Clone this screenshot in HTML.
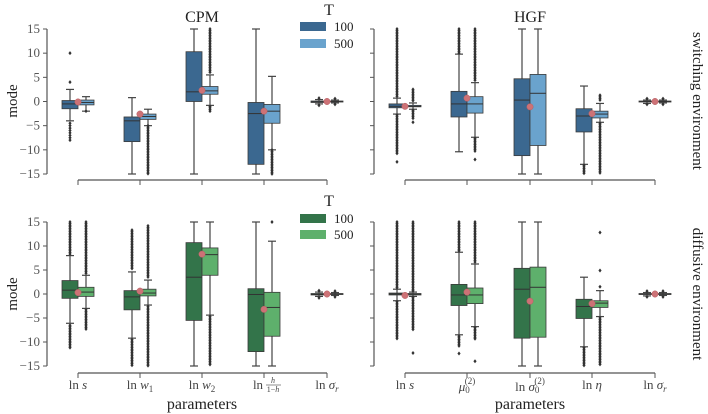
<!DOCTYPE html>
<html><head><meta charset="utf-8"><style>
html,body{margin:0;padding:0;background:#fff;}
svg{display:block;font-family:"Liberation Serif",serif;}
</style></head><body>
<svg id="c" width="708" height="414" viewBox="0 0 708 414" font-family="Liberation Serif, serif"></svg>
<script>
// ---- data ----
const cpmLabels=["ln s","ln w1","ln w2","ln h/(1-h)","ln σr"];
const hgfLabels=["ln s","μ0(2)","ln σ0(2)","ln η","ln σr"];
const yTicks=[15,10,5,0,-5,-10,-15];
// stats: [whiskerLow,q1,median,q3,whiskerHigh]
const cpmSw100=[[-4,-1.5,-0.5,0.2,2.5],[-15,-8.3,-4,-3.2,0.8],[-15,0,2,10.3,15],[-15,-13,-2.5,-0.2,15],[-0.5,-0.2,-0.1,0.1,0.4]];
const cpmSw500=[[-2,-0.7,-0.2,0.3,1],[-5,-3.7,-3.1,-2.6,-1.6],[-0.8,1.5,2.2,3.1,5.5],[-10,-4.5,-2,-0.6,5.2],[-0.3,-0.1,0,0.1,0.3]];
const cpmSwMean=[-0.1,-2.6,2.3,-2,0];
const cpmSwOut100=[[10,4,-4.5,-5,-5.5,-6,-6.5,-7,-7.5,-8],[],[],[],[0.7,-0.8]];
const cpmSwOut500=[[-2],[],[],[],[0.6,-0.6]];
const cpmSwRuns100=[[],[],[],[],[]];
const cpmSwRuns500=[[],[[-15,-5]],[[6,15],[-2.3,-1]],[[-15,-10]],[]];

const hgfSw100=[[-2.6,-1.3,-1,-0.5,0.7],[-10.4,-3.2,-0.5,2.1,9.8],[-15,-11.2,0.3,4.7,15],[-13,-6.3,-3,-1.5,3.2],[-0.4,-0.1,0,0.1,0.3]];
const hgfSw500=[[-1.6,-1.1,-1,-0.8,-0.3],[-7.4,-2.4,-0.5,1,3.9],[-15,-9.1,1.7,5.6,15],[-4.3,-3.4,-2.6,-2,-0.4],[-0.3,-0.1,0,0.1,0.3]];
const hgfSwMean=[-1,0.7,-1.1,-2.5,0];
const hgfSwOut100=[[-12.5],[],[],[],[0.6,-0.6]];
const hgfSwOut500=[[-4.3],[-12],[],[],[0.6,-0.6]];
const hgfSwRuns100=[[[0.9,15],[-11,-2.8]],[[10,15]],[],[[-15,-13.2]],[]];
const hgfSwRuns500=[[[0,2.5],[-3.5,-1.8]],[[4.2,15],[-10.5,-7.6]],[],[[0,1.3],[-15,-4.5]],[]];

const cpmDf100=[[-6.1,-0.9,0.8,2.8,8],[-9.2,-3.3,-0.6,0.7,4.6],[-15,-5.5,3.5,10.7,15],[-15,-12,-0.1,1.1,15],[-0.5,-0.2,-0.1,0.1,0.4]];
const cpmDf500=[[-3,-0.5,0.4,1.4,3.9],[-2.3,-0.4,0.2,1,2.9],[-4.4,3.9,8.2,9.6,15],[-15,-8.8,-2.8,0.35,11],[-0.3,-0.1,0,0.1,0.3]];
const cpmDfMean=[0.3,0.6,8.3,-3.2,0];
const cpmDfOut100=[[],[],[],[],[0.7,-0.8]];
const cpmDfOut500=[[],[],[],[15],[0.6,-0.6]];
const cpmDfRuns100=[[[8.3,15],[-11.5,-6.5]],[[5,13.3],[-15,-9.5]],[],[],[]];
const cpmDfRuns500=[[[4.2,15],[-7.5,-3.3]],[[3.2,14.2],[-15,-2.6]],[[-15,-4.7]],[],[]];

const hgfDf100=[[-1.4,-0.2,0,0.2,1],[-8.5,-2.4,-0.2,2,8.7],[-15,-9.2,1,5.35,15],[-11,-5.1,-2.6,-1.1,3.5],[-0.4,-0.1,0,0.1,0.3]];
const hgfDf500=[[-0.5,-0.2,0,0.1,0.4],[-6.8,-2,-0.2,1.25,6.25],[-15,-9,1.4,5.6,15],[-4.7,-2.8,-1.9,-1.4,0.7],[-0.3,-0.1,0,0.1,0.3]];
const hgfDfMean=[-0.3,0.4,-1.5,-2,0];
const hgfDfOut100=[[],[-12.4],[],[],[0.6,-0.6]];
const hgfDfOut500=[[-12.3],[-14],[],[1.5,4.9,12.8],[0.6,-0.6]];
const hgfDfRuns100=[[[1.2,15],[-9.3,-1.6]],[[9,15],[-11,-8.8]],[],[[-15,-11.2]],[]];
const hgfDfRuns500=[[[0.6,15],[-7.6,-0.7]],[[6.5,15],[-9.6,-7]],[],[[-15,-5]],[]];

// ---- drawing ----
const svg=document.getElementById('c');
const NS="http://www.w3.org/2000/svg";
function mk(tag,attrs,parent){const e=document.createElementNS(NS,tag);for(const k in attrs)e.setAttribute(k,attrs[k]);(parent||svg).appendChild(e);return e;}
const centersL=[78,140,202,264,327], centersR=[405,467,530,592,655];
const BW=16;
const panels=[
 {name:"cpm-switching",ax:47,top:29,bot:174,xl:180,c:centersL,s1:cpmSw100,s2:cpmSw500,m:cpmSwMean,o1:cpmSwOut100,o2:cpmSwOut500,r1:cpmSwRuns100,r2:cpmSwRuns500,col1:"#3b6890",col2:"#6aa3cd",ylab:true},
 {name:"hgf-switching",ax:374,top:29,bot:174,xl:180,c:centersR,s1:hgfSw100,s2:hgfSw500,m:hgfSwMean,o1:hgfSwOut100,o2:hgfSwOut500,r1:hgfSwRuns100,r2:hgfSwRuns500,col1:"#3b6890",col2:"#6aa3cd",ylab:false},
 {name:"cpm-diffusive",ax:47,top:222,bot:366,xl:373,c:centersL,s1:cpmDf100,s2:cpmDf500,m:cpmDfMean,o1:cpmDfOut100,o2:cpmDfOut500,r1:cpmDfRuns100,r2:cpmDfRuns500,col1:"#33744a",col2:"#5eb06c",ylab:true},
 {name:"hgf-diffusive",ax:374,top:222,bot:366,xl:373,c:centersR,s1:hgfDf100,s2:hgfDf500,m:hgfDfMean,o1:hgfDfOut100,o2:hgfDfOut500,r1:hgfDfRuns100,r2:hgfDfRuns500,col1:"#33744a",col2:"#5eb06c",ylab:false}
];
const AX="#555";
function diamond(g,x,y){const e=mk('path',{d:`M${x} ${y-2}L${x+1.6} ${y}L${x} ${y+2}L${x-1.6} ${y}Z`,fill:"#333"},g);
 
 }
function drawBox(g,cx,st,col,y,outs,runs){
 const x0=cx, x1=cx+BW, mx=cx+BW/2;
 mk('line',{x1:mx,x2:mx,y1:y(st[4]),y2:y(st[3]),stroke:"#444","stroke-width":1.2},g);
 mk('line',{x1:mx,x2:mx,y1:y(st[1]),y2:y(st[0]),stroke:"#444","stroke-width":1.2},g);
 mk('line',{x1:mx-4,x2:mx+4,y1:y(st[4]),y2:y(st[4]),stroke:"#444","stroke-width":1.2},g);
 mk('line',{x1:mx-4,x2:mx+4,y1:y(st[0]),y2:y(st[0]),stroke:"#444","stroke-width":1.2},g);
 const b=mk('rect',{x:x0,y:y(st[3]),width:BW,height:Math.max(1,y(st[1])-y(st[3])),fill:col,stroke:"#3a3a3a","stroke-width":0.8},g);
 
 
 mk('line',{x1:x0,x2:x1,y1:y(st[2]),y2:y(st[2]),stroke:"#333","stroke-width":1},g);
 outs.forEach(v=>diamond(g,mx,y(v)));
 runs.forEach(r=>{const ya=y(r[1]),yb=y(r[0]);for(let yy=ya;yy<=yb;yy+=1.6)diamond(g,mx,yy);});
}
panels.forEach(p=>{
 const g=mk('g',{});
 
 
 const y=v=>p.bot-(v+15)/30*(p.bot-p.top);
 mk('line',{x1:p.ax,x2:p.ax,y1:p.top,y2:p.bot,stroke:AX,"stroke-width":1.2},g);
 yTicks.forEach(t=>{mk('line',{x1:p.ax-4,x2:p.ax,y1:y(t),y2:y(t),stroke:AX,"stroke-width":1},g);
  if(p.ylab){const tx=mk('text',{x:p.ax-7,y:y(t)+4,"text-anchor":"end","font-size":13,"font-family":"Liberation Serif, serif",fill:"#555"},g);tx.textContent=t<0?"−"+(-t):String(t);
   
   }});
 mk('line',{x1:p.c[0],x2:p.c[4],y1:p.xl,y2:p.xl,stroke:AX,"stroke-width":1.2},g);
 p.c.forEach(cx=>{mk('line',{x1:cx,x2:cx,y1:p.xl,y2:p.xl+5,stroke:AX,"stroke-width":1},g);});
 p.c.forEach((cx,i)=>{
  drawBox(g,cx-BW,p.s1[i],p.col1,y,p.o1[i],p.r1[i]);
  drawBox(g,cx,p.s2[i],p.col2,y,p.o2[i],p.r2[i]);
  const m=mk('circle',{cx:cx,cy:y(p.m[i]),r:3.2,fill:"#cd7276",stroke:"#b56065","stroke-width":0.5},g);
  
  
 });
});
</script>
<svg width="708" height="414" style="position:absolute;left:0;top:0" font-family="Liberation Serif, serif">
 <text x="202" y="22" text-anchor="middle" font-size="16" fill="#222">CPM</text>
 <text x="530" y="22" text-anchor="middle" font-size="16" fill="#222">HGF</text>
 <text transform="translate(17,101) rotate(-90)" text-anchor="middle" font-size="15" fill="#222">mode</text>
 <text transform="translate(17,294) rotate(-90)" text-anchor="middle" font-size="15" fill="#222">mode</text>
 <text transform="translate(693,101) rotate(90)" text-anchor="middle" font-size="15" fill="#222">switching environment</text>
 <text transform="translate(693,294) rotate(90)" text-anchor="middle" font-size="15" fill="#222">diffusive environment</text>
 <text x="202" y="409" text-anchor="middle" font-size="16" fill="#222">parameters</text>
 <text x="530" y="409" text-anchor="middle" font-size="16" fill="#222">parameters</text>
 <g font-size="13" fill="#444" text-anchor="middle">
  <text x="78" y="389">ln <tspan font-style="italic">s</tspan></text>
  <text x="140" y="389">ln <tspan font-style="italic">w</tspan><tspan font-size="9" dy="3">1</tspan></text>
  <text x="202" y="389">ln <tspan font-style="italic">w</tspan><tspan font-size="9" dy="3">2</tspan></text>
  <text x="258" y="389">ln</text>
  <text x="273" y="383" font-size="8" font-style="italic">h</text>
  <line x1="266" x2="281" y1="385" y2="385" stroke="#444" stroke-width="0.6"/>
  <text x="273" y="392" font-size="8">1−<tspan font-style="italic">h</tspan></text>
  <text x="327" y="389">ln <tspan font-style="italic">σ</tspan><tspan font-size="9" dy="3" font-style="italic">r</tspan></text>
 </g>
 <g font-size="13" fill="#444" text-anchor="middle">
  <text x="405" y="389">ln <tspan font-style="italic">s</tspan></text>
  <text x="467" y="391"><tspan font-style="italic">μ</tspan><tspan font-size="9" dy="2">0</tspan><tspan font-size="9" dy="-9" dx="-5">(2)</tspan></text>
  <text x="530" y="391">ln <tspan font-style="italic">σ</tspan><tspan font-size="9" dy="2">0</tspan><tspan font-size="9" dy="-9" dx="-5">(2)</tspan></text>
  <text x="592" y="389">ln <tspan font-style="italic">η</tspan></text>
  <text x="655" y="389">ln <tspan font-style="italic">σ</tspan><tspan font-size="9" dy="3" font-style="italic">r</tspan></text>
 </g>
 <g>
  <text x="329" y="15" font-size="16" fill="#222" text-anchor="middle">T</text>
  <rect x="300" y="22" width="26" height="9" fill="#3b6890"/>
  <text x="334" y="31" font-size="13" fill="#222">100</text>
  <rect x="300" y="39" width="26" height="9" fill="#6aa3cd"/>
  <text x="334" y="48" font-size="13" fill="#222">500</text>
 </g>
 <g>
  <text x="329" y="206" font-size="16" fill="#222" text-anchor="middle">T</text>
  <rect x="300" y="214" width="26" height="9" fill="#33744a"/>
  <text x="334" y="223" font-size="13" fill="#222">100</text>
  <rect x="300" y="230" width="26" height="9" fill="#5eb06c"/>
  <text x="334" y="239" font-size="13" fill="#222">500</text>
 </g>
</svg>
</body></html>
